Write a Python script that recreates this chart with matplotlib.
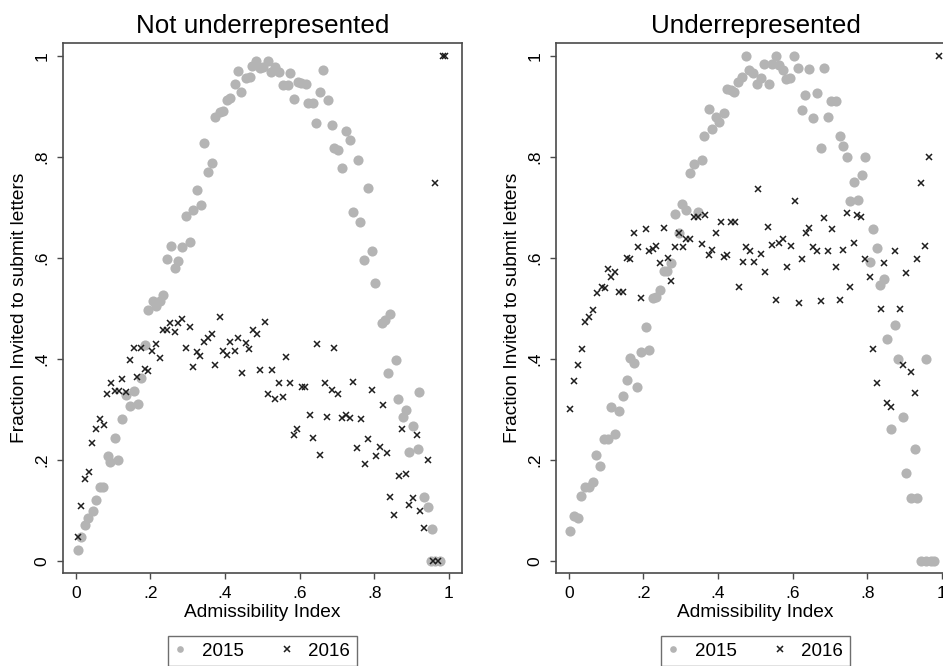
#Graficas de dispersion: fraccion invitada a enviar cartas vs indice de admisibilidad
import matplotlib
matplotlib.use("Agg")
import matplotlib.pyplot as plt
from matplotlib.lines import Line2D

plt.rcParams['font.family'] = ['Liberation Sans', 'DejaVu Sans']

#Datos: (indice, fraccion)
not_2015 = [(0.006,0.022),(0.015,0.048),(0.024,0.071),(0.033,0.084),(0.046,0.098),(0.054,0.121),(0.064,0.146),(0.073,0.147),
            (0.087,0.208),(0.093,0.195),(0.104,0.243),(0.113,0.200),(0.125,0.281),(0.136,0.329),(0.145,0.306),(0.155,0.337),
            (0.167,0.311),(0.176,0.362),(0.187,0.428),(0.194,0.497),(0.207,0.514),(0.216,0.504),(0.225,0.514),(0.234,0.527),
            (0.245,0.599),(0.256,0.624),(0.265,0.581),(0.274,0.595),(0.286,0.621),(0.295,0.683),(0.305,0.632),(0.314,0.695),
            (0.326,0.735),(0.335,0.705),(0.345,0.827),(0.354,0.770),(0.365,0.789),(0.374,0.879),(0.386,0.890),(0.394,0.891),
            (0.405,0.914),(0.414,0.918),(0.426,0.944),(0.435,0.971),(0.444,0.929),(0.455,0.957),(0.466,0.958),(0.473,0.980),
            (0.484,0.991),(0.493,0.976),(0.503,0.979),(0.515,0.991),(0.524,0.968),(0.535,0.979),(0.544,0.969),(0.555,0.943),
            (0.568,0.943),(0.575,0.966),(0.584,0.916),(0.595,0.949),(0.604,0.946),(0.616,0.944),(0.622,0.908),(0.635,0.908),
            (0.643,0.868),(0.655,0.929),(0.662,0.972),(0.676,0.913),(0.687,0.863),(0.693,0.817),(0.704,0.814),(0.714,0.778),
            (0.723,0.851),(0.735,0.834),(0.743,0.692),(0.756,0.794),(0.763,0.671),(0.773,0.596),(0.784,0.739),(0.794,0.614),
            (0.803,0.550),(0.821,0.472),(0.830,0.477),(0.836,0.373),(0.843,0.489),(0.857,0.398),(0.863,0.320),(0.876,0.286),
            (0.885,0.298),(0.894,0.215),(0.903,0.268),(0.917,0.221),(0.921,0.334),(0.934,0.127),(0.943,0.106),(0.952,0.000),
            (0.955,0.063),(0.962,0.000),(0.975,0.000)]

not_2016 = [(0.006,0.048),(0.013,0.108),(0.024,0.162),(0.035,0.176),(0.045,0.234),(0.054,0.262),(0.066,0.281),(0.075,0.269),
            (0.085,0.330),(0.094,0.352),(0.104,0.337),(0.116,0.337),(0.125,0.360),(0.134,0.335),(0.145,0.398),(0.155,0.421),
            (0.165,0.365),(0.174,0.422),(0.185,0.380),(0.194,0.377),(0.205,0.416),(0.214,0.430),(0.225,0.401),(0.234,0.457),
            (0.245,0.457),(0.254,0.472),(0.265,0.454),(0.274,0.471),(0.286,0.479),(0.295,0.421),(0.305,0.464),(0.314,0.385),
            (0.325,0.413),(0.334,0.406),(0.345,0.434),(0.354,0.441),(0.365,0.449),(0.374,0.389),(0.386,0.483),(0.394,0.416),
            (0.405,0.407),(0.414,0.434),(0.426,0.416),(0.435,0.441),(0.445,0.373),(0.455,0.431),(0.464,0.419),(0.475,0.457),
            (0.486,0.449),(0.494,0.378),(0.506,0.474),(0.515,0.330),(0.526,0.378),(0.535,0.320),(0.544,0.352),(0.555,0.325),
            (0.564,0.403),(0.573,0.352),(0.585,0.250),(0.593,0.261),(0.606,0.344),(0.615,0.344),(0.627,0.289),(0.635,0.243),
            (0.646,0.429),(0.655,0.210),(0.667,0.352),(0.674,0.286),(0.686,0.339),(0.693,0.421),(0.704,0.330),(0.714,0.284),
            (0.725,0.290),(0.735,0.283),(0.744,0.355),(0.754,0.224),(0.765,0.281),(0.775,0.192),(0.784,0.241),(0.794,0.339),
            (0.805,0.207),(0.814,0.225),(0.823,0.309),(0.834,0.213),(0.843,0.126),(0.854,0.090),(0.866,0.169),(0.875,0.261),
            (0.885,0.172),(0.894,0.110),(0.903,0.124),(0.914,0.250),(0.923,0.099),(0.934,0.065),(0.943,0.199),(0.957,0.000),
            (0.962,0.749),(0.972,0.000),(0.983,1.000),(0.990,1.000)]

under_2015 = [(0.003,0.059),(0.013,0.088),(0.024,0.084),(0.034,0.129),(0.045,0.146),(0.055,0.146),(0.064,0.156),(0.074,0.210),
              (0.085,0.188),(0.094,0.241),(0.105,0.241),(0.113,0.304),(0.123,0.251),(0.134,0.296),(0.145,0.327),(0.155,0.358),
              (0.164,0.401),(0.174,0.393),(0.183,0.344),(0.194,0.413),(0.206,0.463),(0.216,0.418),(0.226,0.520),(0.235,0.522),
              (0.244,0.537),(0.255,0.575),(0.264,0.575),(0.274,0.591),(0.284,0.688),(0.295,0.649),(0.304,0.708),(0.315,0.696),
              (0.326,0.769),(0.335,0.786),(0.346,0.692),(0.356,0.795),(0.362,0.842),(0.375,0.896),(0.384,0.855),(0.395,0.880),
              (0.404,0.870),(0.416,0.888),(0.423,0.934),(0.435,0.933),(0.444,0.929),(0.454,0.949),(0.463,0.959),(0.475,1.000),
              (0.484,0.972),(0.493,0.966),(0.505,0.944),(0.514,0.956),(0.523,0.984),(0.536,0.944),(0.545,0.984),(0.556,1.000),
              (0.563,0.982),(0.574,0.972),(0.583,0.954),(0.594,0.956),(0.603,1.000),(0.615,0.976),(0.624,0.894),(0.633,0.923),
              (0.645,0.974),(0.655,0.877),(0.664,0.926),(0.675,0.817),(0.684,0.976),(0.694,0.879),(0.704,0.912),(0.715,0.912),
              (0.726,0.842),(0.735,0.822),(0.746,0.801),(0.755,0.712),(0.764,0.751),(0.775,0.715),(0.786,0.764),(0.795,0.801),
              (0.806,0.593),(0.815,0.657),(0.825,0.619),(0.834,0.547),(0.845,0.558),(0.853,0.440),(0.864,0.261),(0.873,0.467),
              (0.883,0.399),(0.895,0.286),(0.905,0.175),(0.916,0.124),(0.929,0.222),(0.934,0.124),(0.943,0.000),(0.956,0.399),
              (0.956,0.000),(0.970,0.000),(0.979,0.000)]

under_2016 = [(0.003,0.300),(0.013,0.357),(0.025,0.389),(0.036,0.420),(0.045,0.474),(0.054,0.484),(0.065,0.497),(0.076,0.531),
              (0.088,0.543),(0.097,0.540),(0.105,0.578),(0.114,0.563),(0.125,0.573),(0.134,0.532),(0.145,0.533),(0.155,0.601),
              (0.165,0.599),(0.176,0.650),(0.185,0.621),(0.195,0.521),(0.206,0.657),(0.214,0.613),(0.225,0.617),(0.235,0.624),
              (0.244,0.591),(0.255,0.659),(0.266,0.601),(0.275,0.555),(0.286,0.622),(0.295,0.649),(0.307,0.622),(0.315,0.638),
              (0.326,0.637),(0.335,0.682),(0.346,0.682),(0.356,0.627),(0.365,0.686),(0.375,0.606),(0.384,0.615),(0.395,0.649),
              (0.407,0.671),(0.416,0.603),(0.424,0.606),(0.435,0.671),(0.445,0.671),(0.456,0.543),(0.466,0.593),(0.476,0.621),
              (0.485,0.613),(0.496,0.593),(0.507,0.736),(0.516,0.608),(0.525,0.573),(0.534,0.661),(0.545,0.626),(0.556,0.516),
              (0.563,0.630),(0.574,0.637),(0.584,0.582),(0.596,0.624),(0.605,0.712),(0.617,0.510),(0.626,0.598),(0.637,0.649),
              (0.643,0.659),(0.655,0.622),(0.665,0.613),(0.677,0.514),(0.684,0.679),(0.695,0.614),(0.706,0.657),(0.717,0.582),
              (0.726,0.516),(0.735,0.616),(0.746,0.690),(0.755,0.542),(0.764,0.630),(0.773,0.685),(0.784,0.681),(0.795,0.599),
              (0.807,0.563),(0.816,0.420),(0.827,0.353),(0.836,0.500),(0.845,0.590),(0.853,0.312),(0.864,0.304),(0.873,0.613),
              (0.887,0.500),(0.895,0.389),(0.905,0.571),(0.918,0.374),(0.928,0.332),(0.934,0.599),(0.945,0.749),(0.954,0.624),
              (0.965,0.801),(0.992,1.000)]

ticks = [0, 0.2, 0.4, 0.6, 0.8, 1]
tick_labels = ["0", ".2", ".4", ".6", ".8", "1"]
titles = ["Not underrepresented", "Underrepresented"]
years = ["2015", "2016"]

GRAY = '#b4b4b4'
DARK = '#1e1e1e'
EDGE = '#4a4a4a'


#Dibuja un panel con los dos años
def panel(ax, d15, d16, title):
    x15, y15 = zip(*d15)
    x16, y16 = zip(*d16)
    ax.plot(x15, y15, ls='none', marker='o', ms=7.3, color=GRAY, mec='none')
    ax.plot(x16, y16, ls='none', marker='x', ms=4.6, mew=1.1, color=DARK)
    ax.set_xlim(-0.034, 1.035)
    ax.set_ylim(-0.024, 1.026)
    ax.set_xticks(ticks)
    ax.set_xticklabels(tick_labels)
    ax.set_yticks(ticks)
    ax.set_yticklabels(tick_labels, rotation=90, va='center')
    ax.tick_params(direction='out', length=4.5, width=1, color=EDGE, labelsize=12.5, pad=5)
    for s in ax.spines.values():
        s.set_color(EDGE)
        s.set_linewidth(1.2)
    ax.set_title(title, fontsize=18.7, pad=7)
    ax.set_xlabel("Admissibility Index", fontsize=13.8, labelpad=2)
    ax.set_ylabel("Fraction Invited to submit letters", fontsize=13.8, labelpad=5)
    #Leyenda debajo del panel
    handles = [Line2D([], [], ls='none', marker='o', ms=4.8, color=GRAY, mec='none'),
               Line2D([], [], ls='none', marker='x', ms=4.2, mew=1.1, color=DARK)]
    leg = ax.legend(handles, years, loc='upper center', bbox_to_anchor=(0.5, -0.119), ncol=2,
                    fontsize=13.5, frameon=True, fancybox=False, handlelength=0.6, handletextpad=0.85,
                    columnspacing=2.0, borderpad=0.35, borderaxespad=0)
    leg.get_frame().set_edgecolor(EDGE)
    leg.get_frame().set_linewidth(1.0)


fig = plt.figure(figsize=(9.43, 6.66), dpi=100)
ax1 = fig.add_axes([63/943, 1-573/666, 399/943, 530/666])
ax2 = fig.add_axes([556/943, 1-573/666, 399/943, 530/666])
panel(ax1, not_2015, not_2016, titles[0])
panel(ax2, under_2015, under_2016, titles[1])

fig.savefig("out.png", dpi=100)
